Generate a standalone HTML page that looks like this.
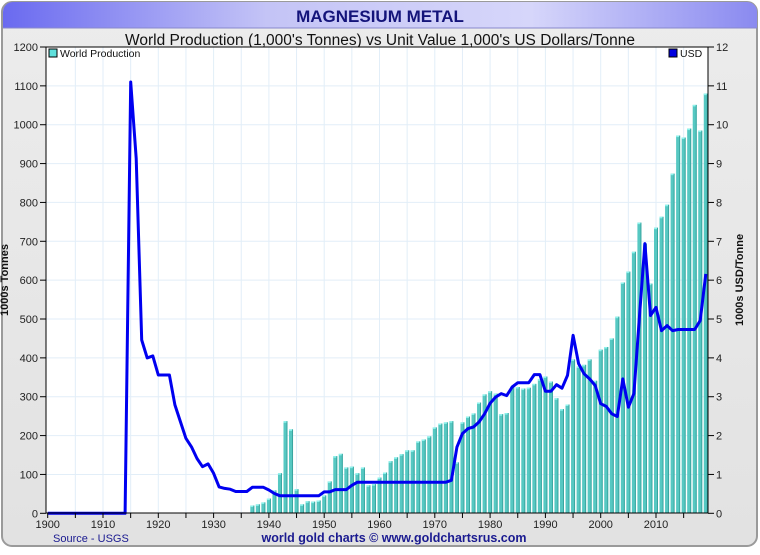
<!DOCTYPE html>
<html><head><meta charset="utf-8">
<style>
html,body{margin:0;padding:0;background:#fff;}
body{width:760px;height:550px;overflow:hidden;font-family:"Liberation Sans",sans-serif;}
</style></head>
<body>
<svg id="chart" width="760" height="550" xmlns="http://www.w3.org/2000/svg" font-family="Liberation Sans, sans-serif">
<defs>
<linearGradient id="tb" x1="0" x2="1" y1="0" y2="0"><stop offset="0" stop-color="#6a6af0"/><stop offset="0.35" stop-color="#c4c4f6"/><stop offset="0.7" stop-color="#d6d6fa"/><stop offset="1" stop-color="#8a8af0"/></linearGradient>
<linearGradient id="bg" x1="0" x2="0" y1="0" y2="1"><stop offset="0" stop-color="#ececec"/><stop offset="1" stop-color="#e2e2e2"/></linearGradient>
</defs>
<rect x="2" y="2" width="755" height="544" rx="10" fill="url(#bg)" stroke="#9a9a9a" stroke-width="2"/>
<path d="M3 28 V12 a10 10 0 0 1 10 -10 H747 a10 10 0 0 1 10 10 V28 Z" fill="url(#tb)"/>
<line x1="3" y1="28" x2="757" y2="28" stroke="#8888cc" stroke-width="1"/>
<text x="380" y="22" text-anchor="middle" font-size="17" font-weight="bold" fill="#14147a">MAGNESIUM METAL</text>
<text x="380" y="45" text-anchor="middle" font-size="15.5" fill="#111">World Production (1,000's Tonnes) vs Unit Value 1,000's US Dollars/Tonne</text>
<rect x="46" y="47" width="662" height="466" fill="#fff"/>
<g id="grid"></g>
<g id="bars"></g>
<g id="line"></g>
<rect x="46" y="47" width="662" height="466" fill="none" stroke="#000" stroke-width="1"/>
<g id="axes" font-size="11" fill="#222"></g>
<rect x="49" y="49" width="8" height="8" fill="#5fe0dc" stroke="#000" stroke-width="1"/>
<text x="60" y="57" font-size="10.5" fill="#111">World Production</text>
<rect x="669" y="49" width="8" height="8" fill="#0000e0" stroke="#000" stroke-width="1"/>
<text x="680" y="57" font-size="10.5" fill="#111">USD</text>
<text transform="translate(8,280) rotate(-90)" text-anchor="middle" font-size="11" font-weight="bold" fill="#111">1000s Tonnes</text>
<text transform="translate(743,280) rotate(-90)" text-anchor="middle" font-size="11" font-weight="bold" fill="#111">1000s USD/Tonne</text>
<text x="53" y="542" font-size="11" fill="#1a1a90">Source - USGS</text>
<text x="394" y="542" text-anchor="middle" font-size="12.5" font-weight="bold" fill="#1a1a90">world gold charts © www.goldchartsrus.com</text>
</svg>
<script>
const prodYears = [1937,1938,1939,1940,1941,1942,1943,1944,1945,1946,1947,1948,1949,1950,1951,1952,1953,1954,1955,1956,1957,1958,1959,1960,1961,1962,1963,1964,1965,1966,1967,1968,1969,1970,1971,1972,1973,1974,1975,1976,1977,1978,1979,1980,1981,1982,1983,1984,1985,1986,1987,1988,1989,1990,1991,1992,1993,1994,1995,1996,1997,1998,1999,2000,2001,2002,2003,2004,2005,2006,2007,2008,2009,2010,2011,2012,2013,2014,2015,2016,2017,2018,2019];
const prodValues = [20,23,28,38,59,103,237,216,62,23,31,30,33,46,82,147,153,118,120,103,118,72,75,92,105,134,144,152,162,162,185,190,198,221,231,234,237,131,234,249,257,285,306,314,308,255,258,326,325,321,323,333,345,352,339,296,268,280,396,378,382,396,341,421,428,450,506,594,622,673,748,694,591,735,763,794,874,972,967,990,1051,985,1080];
const usdYears = [1900,1914,1915,1916,1917,1918,1919,1920,1921,1922,1923,1924,1925,1926,1927,1928,1929,1930,1931,1932,1933,1934,1935,1936,1937,1938,1939,1940,1941,1942,1943,1944,1945,1946,1947,1948,1949,1950,1951,1952,1953,1954,1955,1956,1972,1973,1974,1975,1976,1977,1978,1979,1980,1981,1982,1983,1984,1985,1986,1987,1988,1989,1990,1991,1992,1993,1994,1995,1996,1997,1998,1999,2000,2001,2002,2003,2004,2005,2006,2007,2008,2009,2010,2011,2012,2013,2014,2015,2016,2017,2018,2019];
const usdValues = [0,0,11.1,9.13,4.46,4.0,4.05,3.56,3.56,3.56,2.79,2.36,1.93,1.71,1.41,1.2,1.27,1.03,0.68,0.64,0.62,0.56,0.56,0.56,0.67,0.67,0.67,0.6,0.51,0.45,0.45,0.45,0.45,0.45,0.45,0.45,0.45,0.55,0.55,0.61,0.61,0.61,0.72,0.8,0.8,0.85,1.7,2.05,2.18,2.22,2.35,2.56,2.83,2.99,3.08,3.03,3.25,3.36,3.36,3.36,3.57,3.57,3.14,3.14,3.31,3.22,3.55,4.58,3.85,3.59,3.46,3.29,2.82,2.75,2.56,2.49,3.46,2.73,3.08,5.05,6.94,5.09,5.3,4.7,4.83,4.7,4.73,4.73,4.73,4.73,4.96,6.16];
const leftTicks = [0,100,200,300,400,500,600,700,800,900,1000,1100,1200];
const rightTicks = [0,1,2,3,4,5,6,7,8,9,10,11,12];
const xTickLabels = [1900,1910,1920,1930,1940,1950,1960,1970,1980,1990,2000,2010];

const NS="http://www.w3.org/2000/svg";
const X0=47.7, PX=5.53, Y0=513.3, Y1=47;
const xs = y => X0 + (y-1900)*PX;
const yl = v => Y0 - v*(Y0-Y1)/1200;
const yr = v => Y0 - v*(Y0-Y1)/12;
function mk(tag, attrs, parent){const e=document.createElementNS(NS,tag);for(const k in attrs)e.setAttribute(k,attrs[k]);parent.appendChild(e);return e;}
const grid=document.getElementById('grid'), bars=document.getElementById('bars'), line=document.getElementById('line'), axes=document.getElementById('axes');
for(const t of leftTicks){ if(t>0&&t<1200){const g=mk('line',{x1:46,x2:708,y1:yl(t),y2:yl(t),stroke:'#e2eef8','stroke-width':1},grid);

}
 const tk=mk('line',{x1:40,x2:46,y1:yl(t),y2:yl(t),stroke:'#000'},axes);
 
 
 const tx=mk('text',{x:38,y:yl(t)+4,'text-anchor':'end'},axes); tx.textContent=t;
 
 }
for(const t of rightTicks){const tk=mk('line',{x1:708,x2:714,y1:yr(t),y2:yr(t),stroke:'#000'},axes);
 
 
 const tx=mk('text',{x:716,y:yr(t)+4},axes); tx.textContent=t;
 
 }
for(let yv=1905; yv<=2015; yv+=5){const g=mk('line',{x1:xs(yv),x2:xs(yv),y1:47,y2:513,stroke:'#e2eef8','stroke-width':1},grid);
 
 }
for(let yv=1900; yv<=2015; yv+=5){const tk=mk('line',{x1:xs(yv),x2:xs(yv),y1:513,y2:518,stroke:'#000'},axes);
 
 }
for(const t of xTickLabels){const tx=mk('text',{x:xs(t),y:528,'text-anchor':'middle'},axes); tx.textContent=t;
 
 }
prodYears.forEach((yv,i)=>{const x=xs(yv)-2, top=yl(prodValues[i]);
 const b=mk('rect',{x:x,y:top,width:4,height:Y0-top,fill:'#56c8c2'},bars);
 
 
 mk('rect',{x:x,y:top,width:4,height:1.5,fill:'#8ef4ee'},bars);
 mk('rect',{x:x+3,y:top,width:1,height:Y0-top,fill:'#3aa6a0'},bars);});
const pts=usdYears.map((yv,i)=>xs(yv).toFixed(1)+','+yr(usdValues[i]).toFixed(1)).join(' ');
const pl=mk('polyline',{points:pts,fill:'none',stroke:'#0000f0','stroke-width':3,'stroke-linejoin':'round'},line);


</script>
</body></html>
